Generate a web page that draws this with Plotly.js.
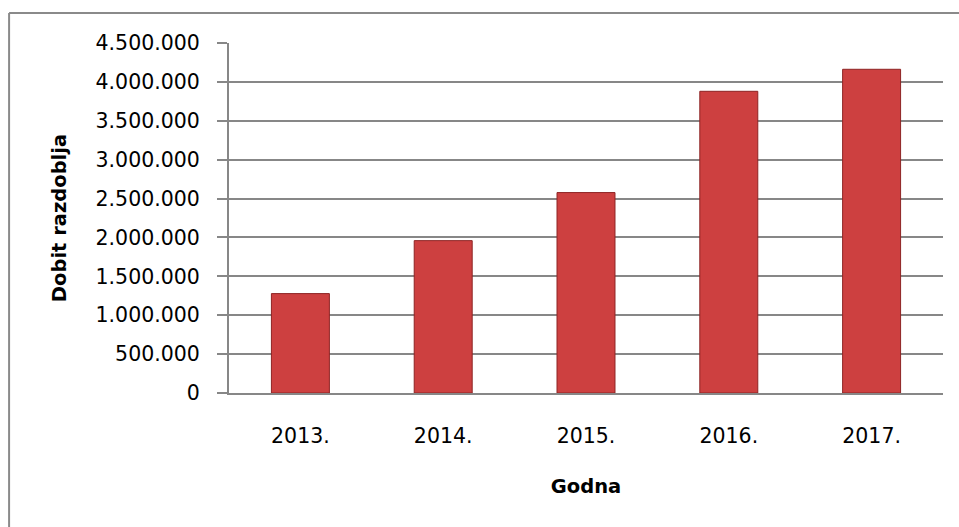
<!DOCTYPE html>
<html>
<head>
<meta charset="utf-8">
<script src="https://cdn.plot.ly/plotly-3.0.1.min.js"></script>
<style>
  html, body { margin: 0; padding: 0; background: #ffffff; }
  #chart { width: 959px; height: 527px; }
</style>
</head>
<body>
<div id="chart"></div>
<script>
const categories = ["2013.", "2014.", "2015.", "2016.", "2017."];
const dobitValues = [1278000, 1959000, 2577000, 3879000, 4162000];
const yTickValues = [0, 500000, 1000000, 1500000, 2000000, 2500000, 3000000, 3500000, 4000000, 4500000];

const FONT = "DejaVu Sans, Liberation Sans, Arial, sans-serif";
const GRAY = "#878787";

const trace = {
  type: "bar",
  x: categories,
  y: dobitValues,
  marker: {
    color: "#cd4040",
    line: { color: "#8e2424", width: 1 }
  },
  hoverinfo: "x+y"
};

const layout = {
  width: 959,
  height: 527,
  paper_bgcolor: "#ffffff",
  plot_bgcolor: "#ffffff",
  separators: ",.",
  margin: { l: 229, r: 16, t: 43, b: 134, pad: 0 },
  showlegend: false,
  bargap: 0.594,
  font: { family: FONT, size: 20, color: "#000000" },
  xaxis: {
    type: "category",
    showgrid: false,
    showline: true,
    linecolor: GRAY,
    linewidth: 2,
    ticks: "",
    ticklabelstandoff: 23,
    tickfont: { family: FONT, size: 20.5, color: "#000000" },
    automargin: false,
    title: { text: "<b>Godna</b>", font: { family: FONT, size: 19.5, color: "#000000" }, standoff: 33 }
  },
  yaxis: {
    range: [0, 4500000],
    tickvals: yTickValues,
    tickformat: ",d",
    showgrid: true,
    gridcolor: GRAY,
    gridwidth: 2,
    zeroline: false,
    showline: true,
    linecolor: GRAY,
    linewidth: 2,
    ticks: "outside",
    ticklen: 10,
    tickwidth: 2,
    tickcolor: GRAY,
    ticklabelstandoff: 13,
    tickfont: { family: FONT, size: 20.5, color: "#000000" },
    automargin: false,
    title: { text: "<b>Dobit razdoblja</b>", font: { family: FONT, size: 19.5, color: "#000000" }, standoff: 24 }
  },
  shapes: [
    { type: "line", xref: "paper", yref: "paper", x0: -0.308, x1: 1.2, y0: 1.0857, y1: 1.0857,
      line: { color: "#8a8a8a", width: 2 } },
    { type: "line", xref: "paper", yref: "paper", x0: -0.308, x1: -0.308, y0: -0.5, y1: 1.0857,
      line: { color: "#8a8a8a", width: 2 } }
  ]
};

Plotly.newPlot("chart", [trace], layout, { displayModeBar: false, staticPlot: true });
</script>
</body>
</html>
